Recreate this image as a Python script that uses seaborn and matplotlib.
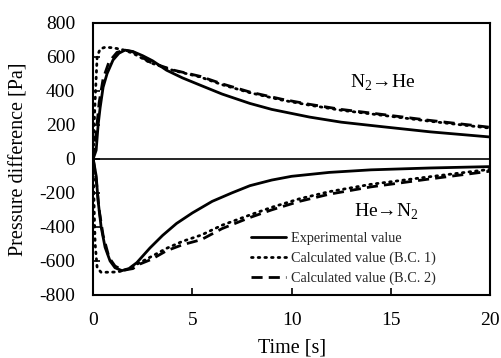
import matplotlib
matplotlib.use("Agg")
import matplotlib.pyplot as plt
import seaborn as sns
import numpy as np

# N2 -> He (upper curves)
t_exp_up = [0, 0.15, 0.25, 0.35, 0.5, 0.7, 1.0, 1.3, 1.6, 2.0, 2.5, 3.0, 3.7, 4.5, 5.4, 6.5, 7.9, 9.0, 10.9, 12.5, 14.6, 17.0, 20.0]
exp_up = [0, 50, 200, 300, 420, 500, 580, 620, 638, 630, 605, 575, 520, 475, 432, 380, 325, 290, 245, 215, 188, 158, 128]

t_bc1_up = [0, 0.05, 0.1, 0.2, 0.35, 0.6, 1.0, 1.5, 2.0, 2.86, 4.0, 5.4, 6.5, 7.9, 9.5, 10.9, 12.5, 14.6, 17.0, 20.0]
bc1_up = [0, 200, 350, 600, 645, 655, 652, 640, 620, 565, 520, 480, 435, 388, 345, 315, 285, 255, 220, 180]

t_bc2_up = [0, 0.15, 0.3, 0.5, 0.8, 1.2, 1.6, 2.0, 2.86, 4.0, 5.4, 6.5, 7.9, 9.5, 10.9, 12.5, 14.6, 17.0, 20.0]
bc2_up = [0, 150, 330, 470, 570, 625, 638, 628, 568, 522, 484, 440, 392, 350, 320, 290, 260, 225, 185]

# He -> N2 (lower curves)
t_exp_lo = [0, 0.15, 0.25, 0.4, 0.6, 0.85, 1.1, 1.45, 1.8, 2.2, 2.86, 3.5, 4.2, 5.0, 6.0, 7.0, 7.9, 9.0, 10.0, 11.9, 14.0, 17.0, 20.0]
exp_lo = [0, -100, -250, -400, -520, -600, -640, -657, -645, -610, -524, -450, -380, -318, -250, -200, -158, -125, -103, -80, -65, -54, -46]

t_bc1_lo = [0, 0.05, 0.1, 0.2, 0.4, 1.2, 1.6, 2.0, 2.6, 3.7, 4.5, 5.45, 6.5, 7.9, 9.0, 10.4, 11.9, 14.0, 17.0, 20.0]
bc1_lo = [0, -300, -500, -640, -667, -665, -655, -632, -595, -526, -485, -448, -390, -330, -285, -235, -193, -150, -105, -62]

t_bc2_lo = [0, 0.15, 0.3, 0.5, 0.8, 1.1, 1.5, 2.0, 2.36, 2.95, 3.7, 4.5, 5.45, 6.5, 7.9, 9.0, 10.4, 11.9, 14.0, 17.0, 20.0]
bc2_lo = [0, -120, -300, -450, -580, -630, -655, -645, -618, -590, -540, -505, -475, -410, -345, -300, -250, -208, -165, -118, -73]

labels = ["Experimental value", "Calculated value (B.C. 1)", "Calculated value (B.C. 2)"]
x_ticks = [0, 5, 10, 15, 20]
y_ticks = [-800, -600, -400, -200, 0, 200, 400, 600, 800]

sns.set_theme(style="white")
plt.rcParams['font.family'] = ['Liberation Serif', 'DejaVu Serif']
plt.rcParams['mathtext.fontset'] = 'custom'
plt.rcParams['mathtext.rm'] = 'Liberation Serif'

fig = plt.figure(figsize=(5.01, 3.58), dpi=100)
ax = fig.add_axes([0.186, 0.176, 0.792, 0.761])

solid_kw = dict(color="black", linewidth=2.0, linestyle="-")
dot_kw = dict(color="black", linewidth=2.0, dashes=(0.6, 1.8), dash_capstyle="round")
dash_kw = dict(color="black", linewidth=2.0, dashes=(4, 2.2))

sns.lineplot(x=t_exp_up, y=exp_up, ax=ax, label=labels[0], **solid_kw)
sns.lineplot(x=t_bc1_up, y=bc1_up, ax=ax, label=labels[1], **dot_kw)
sns.lineplot(x=t_bc2_up, y=bc2_up, ax=ax, label=labels[2], **dash_kw)
sns.lineplot(x=t_exp_lo, y=exp_lo, ax=ax, **solid_kw)
sns.lineplot(x=t_bc1_lo, y=bc1_lo, ax=ax, **dot_kw)
sns.lineplot(x=t_bc2_lo, y=bc2_lo, ax=ax, **dash_kw)

ax.axhline(0, color="black", linewidth=1.2)

ax.set_xlim(0, 20)
ax.set_ylim(-800, 800)
ax.set_xticks(x_ticks)
ax.set_yticks(y_ticks)
ax.set_xticklabels([str(v) for v in x_ticks])
ax.set_yticklabels([str(v) for v in y_ticks])
ax.tick_params(direction="in", length=5, width=1.2, labelsize=14, colors="black",
               bottom=True, left=True, top=False, right=False)
ax.tick_params(axis="y", pad=13)
ax.tick_params(axis="x", pad=12)
for s in ax.spines.values():
    s.set_visible(True)
    s.set_color("black")
    s.set_linewidth(1.5)

ax.set_xlabel("Time [s]", fontsize=14.5, color="black", labelpad=7)
ax.set_ylabel("Pressure difference [Pa]", fontsize=14.5, color="black", labelpad=8)

ax.text(14.6, 445, r"N$_2$→He", fontsize=14, ha="center", va="center", color="black")
ax.text(14.8, -313, r"He→N$_2$", fontsize=14, ha="center", va="center", color="black")

leg = ax.legend(loc="lower left", bbox_to_anchor=(0.375, 0.005), frameon=False,
                fontsize=10.3, handlelength=2.5, handletextpad=0.35, labelspacing=0.45,
                borderaxespad=0.2)

fig.savefig("out.png", dpi=100)
